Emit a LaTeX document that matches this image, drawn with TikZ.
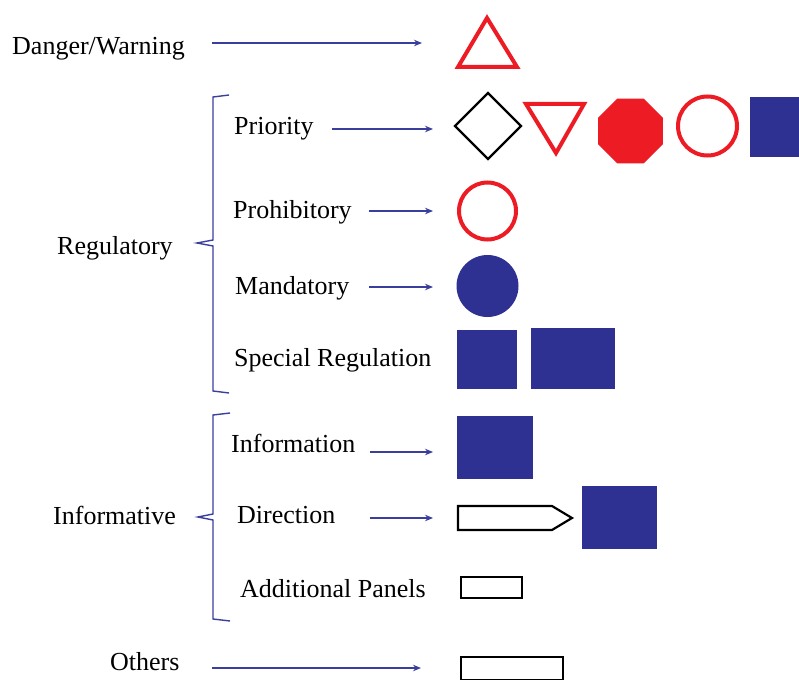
\documentclass[tikz,border=0pt]{standalone}
\usepackage{fontspec}
\setmainfont{Liberation Serif}
\usetikzlibrary{arrows.meta,calc}
\definecolor{sblue}{HTML}{2E3192}
\definecolor{sred}{HTML}{ED1C24}
\definecolor{ablue}{HTML}{3A3F9E}
\tikzset{
  lbl/.style={anchor=base west,inner sep=0pt,font=\fontsize{26}{29}\selectfont},
  conn/.style={draw=ablue,line width=1.5pt,-{Stealth[length=8pt,width=6.5pt]}},
  brace/.style={draw=ablue,line width=1.4pt},
  redline/.style={draw=sred,line width=4pt},
  blackline/.style={draw=black,line width=2.2pt},
  bluefill/.style={fill=sblue},
}
\begin{document}
\begin{tikzpicture}[x=1pt,y=-1pt]
\useasboundingbox (0,0) rectangle (799,679);
% labels
\node[lbl] (dw) at (12,55) {Danger/Warning};
\node[lbl] (reg) at (57,254) {Regulatory};
\node[lbl] (pri) at (234,135) {Priority};
\node[lbl] (pro) at (233,218) {Prohibitory};
\node[lbl] (man) at (235,294) {Mandatory};
\node[lbl] (spe) at (234,366) {Special Regulation};
\node[lbl] (inf) at (53,524) {Informative};
\node[lbl] (info) at (231,452) {Information};
\node[lbl] (dir) at (237,523) {Direction};
\node[lbl] (add) at (240,597) {Additional Panels};
\node[lbl] (oth) at (110,670) {Others};
% arrow end points
\coordinate (dw1) at (212,43); \coordinate (dw2) at (422,43);
\coordinate (pri1) at (332,129); \coordinate (pri2) at (433,129);
\coordinate (pro1) at (369,211); \coordinate (pro2) at (433,211);
\coordinate (man1) at (369,287); \coordinate (man2) at (433,287);
\coordinate (info1) at (370,452); \coordinate (info2) at (433,452);
\coordinate (dir1) at (370,518); \coordinate (dir2) at (433,518);
\coordinate (oth1) at (212,668); \coordinate (oth2) at (421,668);
\draw[conn] (dw1) -- (dw2);
\draw[conn] (pri1) -- (pri2);
\draw[conn] (pro1) -- (pro2);
\draw[conn] (man1) -- (man2);
\draw[conn] (info1) -- (info2);
\draw[conn] (dir1) -- (dir2);
\draw[conn] (oth1) -- (oth2);
% braces
\draw[brace] (229,95) -- (213,97) -- (213,240) -- (197,243) -- (213,246) -- (213,391) -- (229,393);
\draw[brace] (230,413) -- (213,415) -- (213,514) -- (198,517) -- (213,520) -- (213,619) -- (230,621);
% danger triangle
\draw[redline,line join=miter] (487,18) -- (517,67) -- (458,67) -- cycle;
% priority row
\draw[blackline] (488,93) -- (521,126) -- (488,159) -- (455,126) -- cycle;
\draw[redline,line join=miter] (526,104) -- (584,104) -- (556,153) -- cycle;
\coordinate (oct) at (630.5,131);
\fill[sred] ($(oct)+(22.5:35)$) -- ($(oct)+(67.5:35)$) -- ($(oct)+(112.5:35)$) -- ($(oct)+(157.5:35)$) -- ($(oct)+(202.5:35)$) -- ($(oct)+(247.5:35)$) -- ($(oct)+(292.5:35)$) -- ($(oct)+(337.5:35)$) -- cycle;
\draw[redline] (707.5,126) circle[radius=29.5];
\fill[bluefill] (750,97) rectangle (800,157);
% prohibitory / mandatory
\draw[redline] (487.5,211) circle[radius=28.5];
\fill[bluefill] (487.5,286) circle[radius=31];
% special regulation
\fill[bluefill] (457,330) rectangle (517,389);
\fill[bluefill] (531,328) rectangle (615,389);
% informative
\fill[bluefill] (457,416) rectangle (533,479);
\draw[blackline,line join=miter] (458,506) -- (552,506) -- (572,518) -- (552,530) -- (458,530) -- cycle;
\fill[bluefill] (582,486) rectangle (657,549);
\draw[blackline] (461,577) rectangle (522,598);
\draw[blackline] (461,657) rectangle (563,680);
\end{tikzpicture}
\end{document}
